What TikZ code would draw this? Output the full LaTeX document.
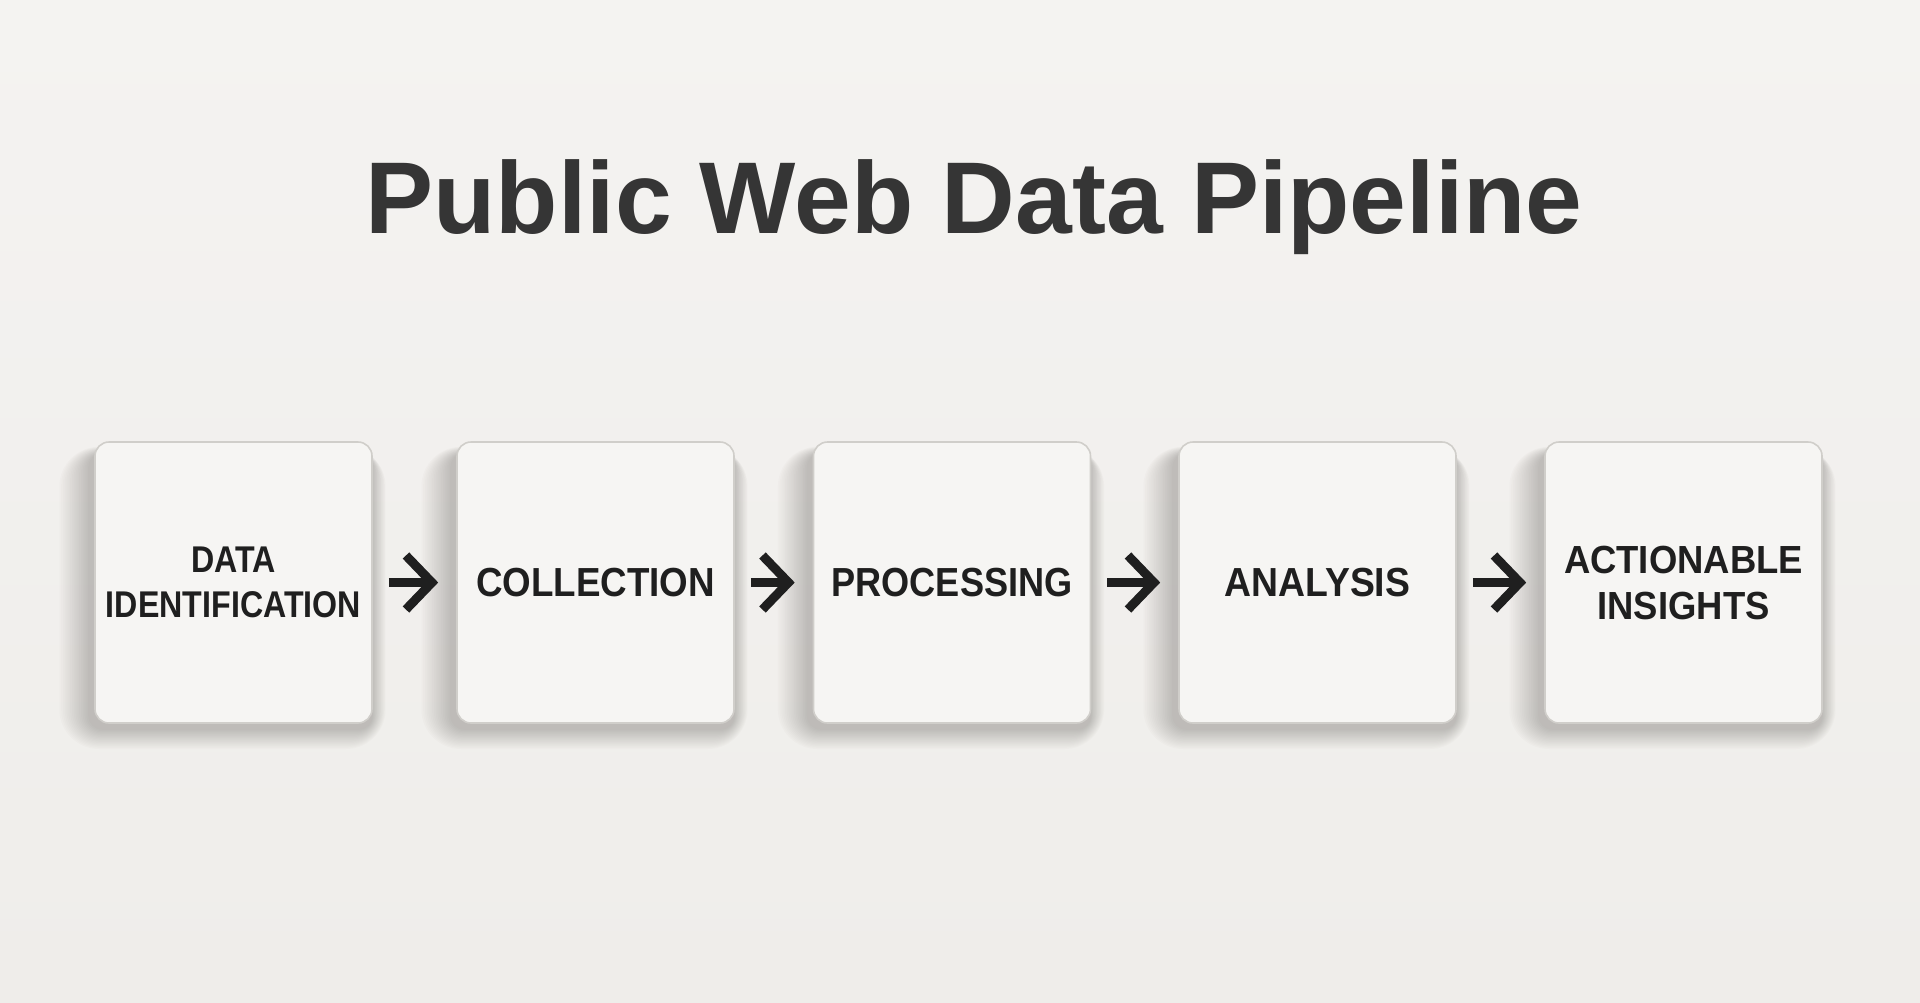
\documentclass[tikz,border=0pt]{standalone}
\usepackage{fontspec}
\setmainfont{Liberation Sans}
\newfontfamily\titlefont{Liberation Sans}
\newfontfamily\fA[FakeStretch=0.865]{Liberation Sans Bold}
\newfontfamily\fB[FakeStretch=0.905]{Liberation Sans Bold}
\newfontfamily\fC[FakeStretch=0.89]{Liberation Sans Bold}
\newfontfamily\fD[FakeStretch=0.92]{Liberation Sans Bold}
\newfontfamily\fE[FakeStretch=0.93]{Liberation Sans Bold}
\usetikzlibrary{arrows.meta}
\pgfdeclarelayer{bglayer}
\pgfdeclarelayer{shadowlayer}
\pgfsetlayers{bglayer,shadowlayer,main}
\definecolor{bg}{HTML}{EFEDEA}
\definecolor{bgtop}{HTML}{F4F3F1}
\definecolor{cardfill}{HTML}{F6F5F3}
\definecolor{cardedge}{HTML}{D0CECA}
\definecolor{ink}{HTML}{1F1F1F}
\definecolor{titleink}{HTML}{353535}
\definecolor{shade}{HTML}{5A5550}
\begin{document}
\begin{tikzpicture}[x=0.5pt,y=-0.5pt,
  card/.style={rounded corners=7pt, fill=cardfill, draw=cardedge, line width=0.8pt,
    minimum width=138.5pt, minimum height=140.5pt, inner sep=0pt, align=center, text=ink},
  flow/.style={draw=ink, line width=4.5pt,
    -{Straight Barb[length=13pt,width=27pt,line join=miter,line cap=butt]},
    shorten <=8pt, shorten >=9pt},
  softshadow/.style={fill=shade, fill opacity=0.02, rounded corners=#1},
  titlestyle/.style={font=\titlefont\bfseries\fontsize{51pt}{60pt}\selectfont, text=titleink, inner sep=0pt}
]
\begin{pgfonlayer}{bglayer}
\path[use as bounding box, top color=bgtop, bottom color=bg] (0,0) rectangle (1920,1002);
\end{pgfonlayer}

\node[titlestyle, anchor=base] (title) at (974,233) {Public Web Data Pipeline};

\node[card, font=\fA\fontsize{18.6pt}{22.5pt}\selectfont] (b1) at (233.5,582.5) {DATA\\IDENTIFICATION};
\node[card, font=\fB\fontsize{20.3pt}{23pt}\selectfont] (b2) at (595.5,582.5) {COLLECTION};
\node[card, font=\fC\fontsize{20.3pt}{23pt}\selectfont] (b3) at (952,582.5) {PROCESSING};
\node[card, font=\fD\fontsize{20.3pt}{23pt}\selectfont] (b4) at (1317.5,582.5) {ANALYSIS};
\node[card, font=\fE\fontsize{19.6pt}{23pt}\selectfont] (b5) at (1683.5,582.5) {ACTIONABLE\\INSIGHTS};

\begin{pgfonlayer}{shadowlayer}
  \foreach \b in {b1,b2,b3,b4,b5}{
    \foreach \i in {0,...,16}{
      \pgfmathsetmacro{\gx}{-3-0.9*\i}
      \pgfmathsetmacro{\rr}{7+0.8*\i}
      \path[softshadow=\rr pt]
        ([xshift=\gx pt, yshift=-3pt-0.6*\i pt]\b.south west) rectangle
        ([xshift=0.4*\i pt, yshift=0.2*\i pt - 6pt]\b.north east);
    }
  }
\end{pgfonlayer}

\draw[flow] (b1) -- (b2);
\draw[flow] (b2) -- (b3);
\draw[flow] (b3) -- (b4);
\draw[flow] (b4) -- (b5);
\end{tikzpicture}
\end{document}
